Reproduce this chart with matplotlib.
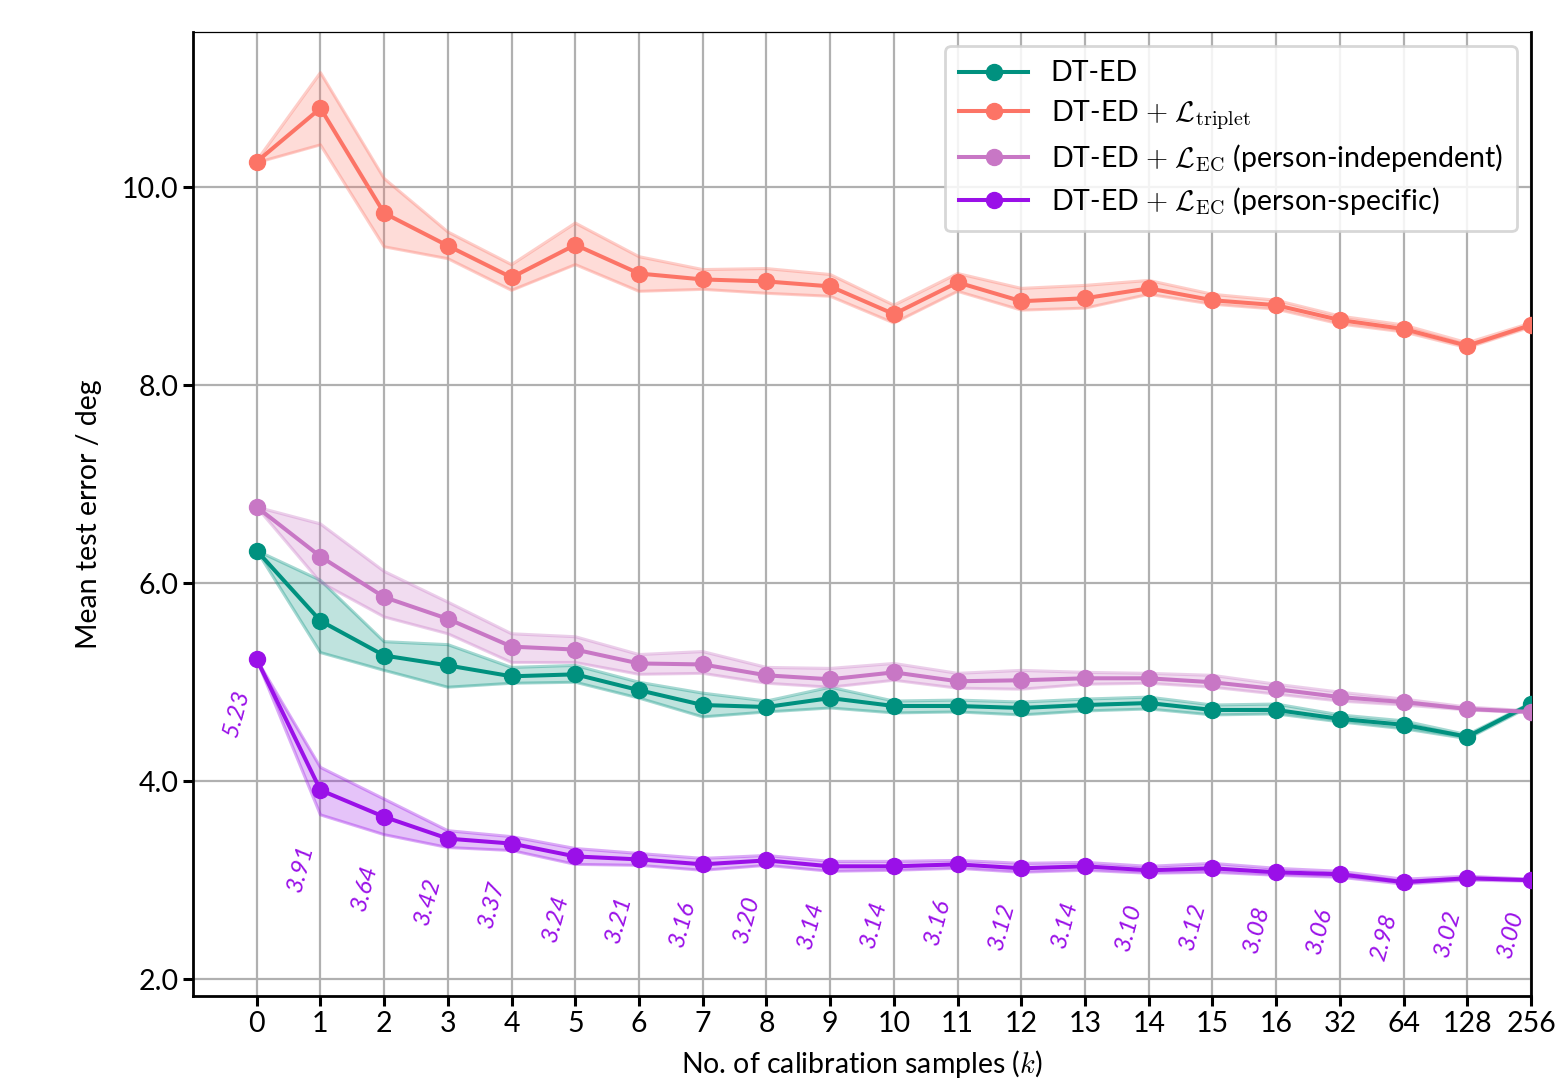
import matplotlib

matplotlib.use("Agg")
import matplotlib.pyplot as plt
import numpy as np

plt.rcParams["font.family"] = ["Lato", "DejaVu Sans"]
plt.rcParams["mathtext.fontset"] = "cm"

# calibration-sample counts, plotted at evenly spaced positions
k_labels = ["0", "1", "2", "3", "4", "5", "6", "7", "8", "9", "10", "11", "12",
            "13", "14", "15", "16", "32", "64", "128", "256"]

# DT-ED
dted = [6.33, 5.62, 5.27, 5.17, 5.06, 5.08, 4.92, 4.77, 4.75, 4.84, 4.76, 4.76, 4.74,
        4.77, 4.79, 4.72, 4.72, 4.63, 4.57, 4.45, 4.78]
dted_hi = [6.33, 6.03, 5.41, 5.38, 5.15, 5.17, 5.00, 4.89, 4.81, 4.95, 4.81, 4.82, 4.80,
           4.83, 4.85, 4.77, 4.78, 4.67, 4.61, 4.47, 4.79]
dted_lo = [6.33, 5.30, 5.12, 4.95, 4.99, 5.00, 4.84, 4.65, 4.70, 4.74, 4.69, 4.70, 4.67,
           4.71, 4.73, 4.67, 4.68, 4.60, 4.53, 4.43, 4.76]

# DT-ED + triplet loss
trip = [10.26, 10.80, 9.74, 9.41, 9.09, 9.42, 9.13, 9.07, 9.05, 9.00, 8.72, 9.04, 8.85,
        8.88, 8.98, 8.86, 8.81, 8.66, 8.57, 8.40, 8.61]
trip_hi = [10.27, 11.16, 10.09, 9.55, 9.22, 9.64, 9.30, 9.17, 9.18, 9.12, 8.81, 9.13, 8.98,
           9.01, 9.06, 8.92, 8.86, 8.70, 8.61, 8.43, 8.63]
trip_lo = [10.25, 10.43, 9.40, 9.28, 8.96, 9.22, 8.95, 8.97, 8.93, 8.90, 8.63, 8.95, 8.76,
           8.78, 8.92, 8.82, 8.77, 8.62, 8.54, 8.38, 8.59]

# DT-ED + EC loss, person-independent
ec_pi = [6.77, 6.27, 5.86, 5.64, 5.36, 5.33, 5.19, 5.18, 5.07, 5.03, 5.10, 5.01, 5.02,
         5.04, 5.04, 5.00, 4.93, 4.85, 4.80, 4.73, 4.70]
ec_pi_hi = [6.77, 6.60, 6.12, 5.81, 5.49, 5.46, 5.28, 5.31, 5.15, 5.14, 5.19, 5.09, 5.12,
            5.10, 5.09, 5.07, 4.98, 4.90, 4.83, 4.75, 4.71]
ec_pi_lo = [6.77, 6.01, 5.66, 5.49, 5.20, 5.20, 5.08, 5.09, 4.99, 4.95, 5.02, 4.94, 4.93,
            4.98, 4.99, 4.95, 4.88, 4.81, 4.77, 4.72, 4.69]

# DT-ED + EC loss, person-specific
ec_ps = [5.23, 3.91, 3.64, 3.42, 3.37, 3.24, 3.21, 3.16, 3.20, 3.14, 3.14, 3.16, 3.12,
         3.14, 3.10, 3.12, 3.08, 3.06, 2.98, 3.02, 3.00]
ec_ps_hi = [5.23, 4.14, 3.82, 3.50, 3.44, 3.32, 3.27, 3.22, 3.25, 3.19, 3.19, 3.20, 3.17,
            3.18, 3.14, 3.17, 3.12, 3.09, 3.01, 3.04, 3.01]
ec_ps_lo = [5.23, 3.66, 3.46, 3.33, 3.30, 3.16, 3.15, 3.10, 3.15, 3.09, 3.10, 3.12, 3.08,
            3.10, 3.07, 3.08, 3.05, 3.03, 2.96, 3.00, 2.99]

series = [
    ("DT-ED", "#00917f", dted, dted_lo, dted_hi),
    (r"DT-ED $+$ $\mathcal{L}_{\mathrm{triplet}}$", "#fc7466", trip, trip_lo, trip_hi),
    (r"DT-ED $+$ $\mathcal{L}_{\mathrm{EC}}$ (person-independent)", "#c877c5", ec_pi, ec_pi_lo, ec_pi_hi),
    (r"DT-ED $+$ $\mathcal{L}_{\mathrm{EC}}$ (person-specific)", "#9a10e8", ec_ps, ec_ps_lo, ec_ps_hi),
]

x = np.arange(len(k_labels))
FS = 20.5

fig = plt.figure(figsize=(15.58, 10.82), dpi=100)
ax = fig.add_axes([0.1239, 0.0795, 0.8588, 0.8909])

for label, color, mean, lo, hi in series:
    ax.fill_between(x, lo, hi, color=color, alpha=0.25, lw=0, zorder=2)
    ax.plot(x, lo, color=color, alpha=0.35, lw=2.2, zorder=2)
    ax.plot(x, hi, color=color, alpha=0.35, lw=2.2, zorder=2)
    ax.plot(x, mean, "-o", color=color, lw=2.9, ms=11.5, label=label, zorder=3)

# value labels under the person-specific curve
ps_color = series[3][1]
for xi, v, lo in zip(x, ec_ps, ec_ps_lo):
    ax.text(xi - 0.31, lo - 0.54, f"{v:.2f}", rotation=75, ha="center", va="center",
            fontsize=17.5, style="italic", color=ps_color)

ax.set_xlim(-1, 20)
ax.set_ylim(1.83, 11.57)
ax.set_xticks(x)
ax.set_xticklabels(k_labels)
ax.set_yticks([2, 4, 6, 8, 10])
ax.set_yticklabels([f"{t:.1f}" for t in [2, 4, 6, 8, 10]])
ax.tick_params(labelsize=FS, width=2.2, length=7, color="black")
ax.grid(True, color="#b0b0b0", lw=1.6, zorder=0)
ax.set_axisbelow(True)
for side in ("left", "bottom", "right"):
    ax.spines[side].set_linewidth(2.0)
ax.spines["top"].set_linewidth(0.9)

ax.set_xlabel(r"No. of calibration samples ($k$)", fontsize=FS, labelpad=8)
ax.set_ylabel("Mean test error / deg", fontsize=FS, labelpad=14)

leg = ax.legend(loc="upper right", fontsize=FS, numpoints=1, handlelength=2.4,
                framealpha=0.85, fancybox=True, borderpad=0.5, labelspacing=0.4)
leg.get_frame().set_edgecolor("#d0d0d0")
leg.get_frame().set_linewidth(2.0)

fig.savefig("out.png", dpi=100)
